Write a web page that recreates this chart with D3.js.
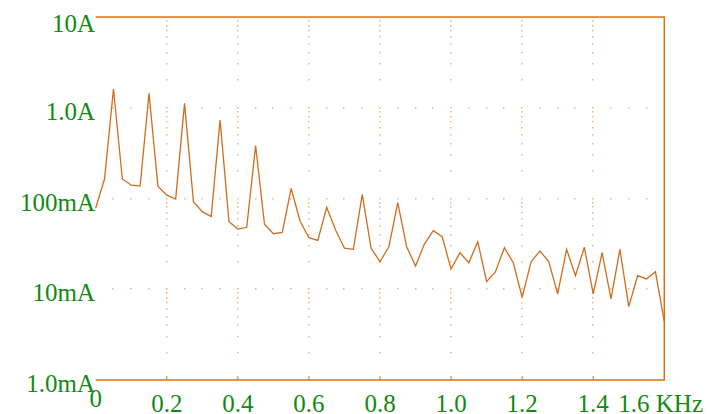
<!DOCTYPE html>
<html>
<head>
<meta charset="utf-8">
<script src="https://cdnjs.cloudflare.com/ajax/libs/d3/7.8.5/d3.min.js"></script>
<style>
  body { margin: 0; background: #fff; }
  text { font-family: "Liberation Serif", "Times New Roman", serif; fill: #128a12; }
</style>
</head>
<body>
<script>
// frequency points, 0 .. 1.6 KHz every 25 Hz
var freqKHz = [];
for (var i = 0; i <= 64; i++) { freqKHz.push(i * 0.025); }

// current in mA
var currentMA = [78.6, 165, 1610, 164, 140, 137, 1443, 137, 109, 98.7,
                 1119, 92.2, 71.6, 63.1, 733, 55.5, 46.1, 48.2, 382, 52,
                 40.9, 42.4, 129, 56.5, 37, 34.6, 80, 45, 28.3, 27.5,
                 111, 28.3, 20.1, 29.4, 89.9, 29.4, 18.0, 31.5, 44.2, 37.9,
                 16.7, 25.3, 19.6, 33.4, 12.1, 15.6, 28.7, 19.6, 8.15, 20.1,
                 26.4, 20.1, 8.87, 27.5, 14.1, 29.0, 8.87, 25.3, 7.81, 27.5,
                 6.43, 14.1, 13.0, 15.6, 4.39];

var yTicks = [1, 10, 100, 1000, 10000];
var yTickLabels = ["1.0mA", "10mA", "100mA", "1.0A", "10A"];
var xTicks = [0, 0.2, 0.4, 0.6, 0.8, 1.0, 1.2, 1.4, 1.6];
var xTickLabels = ["0", "0.2", "0.4", "0.6", "0.8", "1.0", "1.2", "1.4", "1.6 KHz"];

var w = 711;
var h = 414;
var plotLeft = 95.7, plotRight = 664.3, plotTop = 17, plotBottom = 380;
var lineColor = "#d06d1c";
var frameColor = "#db7210";
var dotColor = "#efb67c";

var svg = d3.select("body")
            .append("svg")
            .attr("width", w)
            .attr("height", h);

var x = d3.scaleLinear().domain([0, 1.6]).range([plotLeft, plotRight]);
var y = d3.scaleLog().domain([1, 10000]).range([plotBottom, plotTop]);

// dotted grid: vertical lines get dots at the minor log steps
var minor = [];
for (var d = 0; d < 4; d++) {
  for (var k = 2; k <= 9; k++) { minor.push(k * Math.pow(10, d)); }
}
var vDots = [];
xTicks.slice(1, -1).forEach(function(t){
  minor.forEach(function(m){ vDots.push([t, m]); });
});
// horizontal lines at each decade, dots every 0.05 KHz
var hDots = [];
yTicks.slice(1, -1).forEach(function(t){
  for (var j = 1; j < 32; j++) { hDots.push([j * 0.05, t]); }
});

svg.selectAll("rect.dot")
   .data(vDots.concat(hDots))
   .enter()
   .append("rect")
   .attr("class", "dot")
   .attr("x", function(d){ return Math.round(x(d[0])) - 1; })
   .attr("y", function(d){ return Math.round(y(d[1])) - 1; })
   .attr("width", 1.5)
   .attr("height", 1.5)
   .attr("fill", dotColor);

// frame: top, right, bottom
svg.append("path")
   .attr("d", "M" + plotLeft + "," + plotTop + "H" + plotRight + "V" + plotBottom + "H" + plotLeft)
   .attr("fill", "none")
   .attr("stroke", frameColor)
   .attr("stroke-width", 1.5);

// small ticks on the bottom axis
svg.selectAll("line.xtick")
   .data(xTicks.slice(1, -1))
   .enter()
   .append("line")
   .attr("class", "xtick")
   .attr("x1", function(d){ return x(d); })
   .attr("x2", function(d){ return x(d); })
   .attr("y1", plotBottom)
   .attr("y2", plotBottom - 4)
   .attr("stroke", frameColor)
   .attr("stroke-width", 1);

var line = d3.line()
             .x(function(d, i){ return x(freqKHz[i]); })
             .y(function(d){ return y(d); });

svg.append("path")
   .datum(currentMA)
   .attr("d", line)
   .attr("fill", "none")
   .attr("stroke", lineColor)
   .attr("stroke-width", 1.3);

// y labels
svg.selectAll("text.ylab")
   .data(yTicks)
   .enter()
   .append("text")
   .attr("class", "ylab")
   .attr("x", 95)
   .attr("y", function(d){ return Math.max(y(d) + 12, 32); })
   .attr("text-anchor", "end")
   .style("font-size", "25px")
   .text(function(d, i){ return yTickLabels[i]; });

// x labels
svg.selectAll("text.xlab")
   .data(xTicks)
   .enter()
   .append("text")
   .attr("class", "xlab")
   .attr("x", function(d, i){
     if (i == xTicks.length - 1) return 703;
     return x(d);
   })
   .attr("y", function(d, i){ return i == 0 ? 407 : 412; })
   .attr("text-anchor", function(d, i){ return i == xTicks.length - 1 ? "end" : "middle"; })
   .style("font-size", "25px")
   .text(function(d, i){ return xTickLabels[i]; });
</script>
</body>
</html>
